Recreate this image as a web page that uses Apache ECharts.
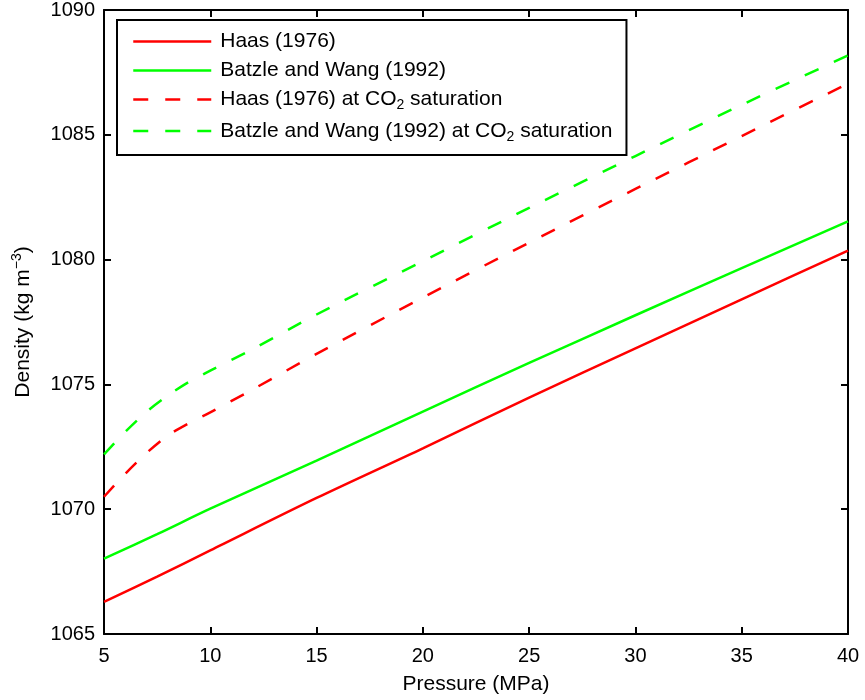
<!DOCTYPE html>
<html>
<head>
<meta charset="utf-8">
<script src="https://cdn.jsdelivr.net/npm/echarts@6/dist/echarts.min.js"></script>
<style>html,body{margin:0;padding:0;background:#fff}#chart{width:865px;height:700px}</style>
</head>
<body>
<div id="chart"></div>
<script>
// Data
const pressure = [5, 7.5, 10, 15, 20, 25, 30, 35, 40];
const haas = [1066.29, 1067.3, 1068.35, 1070.45, 1072.44, 1074.47, 1076.44, 1078.41, 1080.36];
const batzle = [1068.02, 1069.0, 1070.02, 1071.95, 1073.91, 1075.86, 1077.77, 1079.66, 1081.53];
const pressureSat = [5, 6, 7, 8, 9, 10, 12, 15, 20, 25, 30, 35, 40];
const haasSat = [1070.5, 1071.42, 1072.25, 1072.95, 1073.45, 1073.88, 1074.8, 1076.22, 1078.48, 1080.68, 1082.83, 1084.95, 1087.05];
const batzleSat = [1072.2, 1073.1, 1073.9, 1074.55, 1075.1, 1075.55, 1076.42, 1077.8, 1079.94, 1082.07, 1084.15, 1086.2, 1088.18];
const xTicks = [5, 10, 15, 20, 25, 30, 35, 40];
const yTicks = [1065, 1070, 1075, 1080, 1085, 1090];
const seriesNames = ['Haas (1976)', 'Batzle and Wang (1992)', 'Haas (1976) at CO2 saturation', 'Batzle and Wang (1992) at CO2 saturation'];

const pairs = (xs, ys) => xs.map((x, i) => [x, ys[i]]);
const FONT = "'Liberation Sans', Arial, Helvetica, sans-serif";
const RED = '#ff0000', GREEN = '#00ff00';
const DASH = [15, 17];

const chart = echarts.init(document.getElementById('chart'));
const axisCommon = {
  axisLine: { show: true, lineStyle: { color: '#000', width: 2 } },
  axisTick: { show: true, inside: true, length: 7, lineStyle: { color: '#000', width: 2 } },
  splitLine: { show: false }
};
chart.setOption({
  animation: false,
  backgroundColor: '#fff',
  textStyle: { fontFamily: FONT },
  grid: { left: 104, right: 17, top: 8, bottom: 66, containLabel: false },
  xAxis: [
    Object.assign({
      type: 'value', min: 5, max: 40, interval: 5, position: 'bottom',
      name: 'Pressure (MPa)', nameLocation: 'middle', nameGap: 40,
      nameTextStyle: { color: '#000', fontSize: 21, fontFamily: FONT },
      axisLabel: { color: '#000', fontSize: 20, fontFamily: FONT, margin: 12,
        formatter: v => xTicks.includes(v) ? String(v) : '' }
    }, axisCommon),
    Object.assign({
      type: 'value', min: 5, max: 40, interval: 5, position: 'top',
      axisLabel: { show: false }
    }, axisCommon)
  ],
  yAxis: [
    Object.assign({
      type: 'value', min: 1065, max: 1090, interval: 5, position: 'left',
      name: 'Density (kg m{sup|−3})', nameLocation: 'middle', nameGap: 68, nameRotate: 90,
      nameTextStyle: { color: '#000', fontSize: 21, fontFamily: FONT,
        rich: { sup: { fontSize: 14, fontFamily: FONT, color: '#000', padding: [0, 0, 12, 0] } } },
      axisLabel: { color: '#000', fontSize: 20, fontFamily: FONT, margin: 9,
        formatter: v => yTicks.includes(v) ? String(v) : '' }
    }, axisCommon),
    Object.assign({
      type: 'value', min: 1065, max: 1090, interval: 5, position: 'right',
      axisLabel: { show: false }
    }, axisCommon)
  ],
  legend: {
    orient: 'vertical', left: 117, top: 20,
    data: seriesNames,
    itemWidth: 78, itemHeight: 14, itemGap: 8,
    padding: [11, 14, 11, 15],
    borderColor: '#000', borderWidth: 2, backgroundColor: '#fff',
    itemStyle: { opacity: 0 },
    lineStyle: { width: 2.5 },
    textStyle: { color: '#000', fontSize: 21, fontFamily: FONT, padding: [0, 0, 0, 4],
      rich: {
        t: { fontSize: 21, fontFamily: FONT, color: '#000' },
        sub: { fontSize: 14, fontFamily: FONT, color: '#000', padding: [12, 0, 0, 0] }
      } },
    formatter: name => {
      if (name.indexOf('CO2') >= 0) {
        const parts = name.split('CO2');
        return '{t|' + parts[0] + 'CO}{sub|2}{t|' + parts[1] + '}';
      }
      return name;
    }
  },
  series: [
    { name: seriesNames[0], type: 'line', data: pairs(pressure, haas), showSymbol: false, symbol: 'none', smooth: 0.3,
      lineStyle: { color: RED, width: 2.5 }, itemStyle: { color: RED } },
    { name: seriesNames[1], type: 'line', data: pairs(pressure, batzle), showSymbol: false, symbol: 'none', smooth: 0.3,
      lineStyle: { color: GREEN, width: 2.5 }, itemStyle: { color: GREEN } },
    { name: seriesNames[2], type: 'line', data: pairs(pressureSat, haasSat), showSymbol: false, symbol: 'none', smooth: 0.3,
      lineStyle: { color: RED, width: 2.5, type: DASH }, itemStyle: { color: RED } },
    { name: seriesNames[3], type: 'line', data: pairs(pressureSat, batzleSat), showSymbol: false, symbol: 'none', smooth: 0.3,
      lineStyle: { color: GREEN, width: 2.5, type: DASH }, itemStyle: { color: GREEN } }
  ]
});
</script>
</body>
</html>
